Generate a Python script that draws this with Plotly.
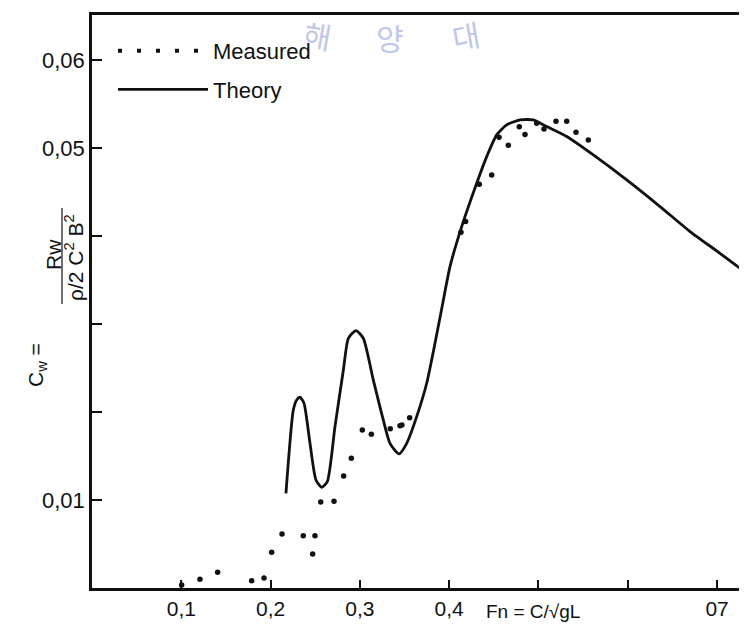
import plotly.graph_objects as go

# ---- data ----
theory_fn = [0.2172, 0.2254, 0.2292, 0.2329, 0.2374, 0.2441, 0.2508, 0.2572, 0.2635,
             0.2721, 0.2815, 0.2871, 0.2956, 0.3038, 0.3150, 0.3262, 0.3337, 0.3438,
             0.3524, 0.3636, 0.3748, 0.3841, 0.3935, 0.4009, 0.4140, 0.4308, 0.4420,
             0.4532, 0.4644, 0.4793, 0.4942, 0.5092, 0.5316, 0.5614, 0.5988, 0.6361,
             0.6697, 0.7032, 0.7331]
theory_cw = [0.01076, 0.0202, 0.02136, 0.02167, 0.0210, 0.01644, 0.01227, 0.01144, 0.01208,
             0.01833, 0.02477, 0.02837, 0.02924, 0.02837, 0.02364, 0.01909, 0.01644, 0.01523,
             0.01644, 0.01947, 0.02326, 0.02780, 0.03273, 0.03651, 0.04106, 0.04599, 0.04901,
             0.05148, 0.05261, 0.05318, 0.05318, 0.05242, 0.05129, 0.0492, 0.04636, 0.04333,
             0.0405, 0.03803, 0.03576]

measured_fn = [0.1004, 0.1209, 0.1407, 0.1788, 0.1926, 0.2012, 0.2128, 0.2366, 0.2497,
               0.2471, 0.2561, 0.2710, 0.2818, 0.2904, 0.3027, 0.3128, 0.3340, 0.3449,
               0.3471, 0.3557, 0.4132, 0.4184, 0.4337, 0.4476, 0.4558, 0.4662, 0.4785,
               0.4849, 0.4980, 0.5062, 0.5196, 0.5316, 0.5420, 0.5558]
measured_cw = [0.00034, 0.00099, 0.00178, 0.00083, 0.00114, 0.00405, 0.00614, 0.00595, 0.00595,
               0.00386, 0.00977, 0.00985, 0.01273, 0.01473, 0.01795, 0.01746, 0.0181, 0.01844,
               0.01852, 0.01935, 0.04042, 0.04163, 0.04587, 0.04693, 0.05121, 0.05030, 0.05239,
               0.05152, 0.05281, 0.05216, 0.05303, 0.05303, 0.05178, 0.05091]

x_tick_vals = [0.1, 0.2, 0.3, 0.4, 0.5, 0.6, 0.7]
x_tick_text = ["0,1", "0,2", "0,3", "0,4", "", "", "07"]
y_tick_vals = [0.01, 0.02, 0.03, 0.04, 0.05, 0.06]
y_tick_text = ["0,01", "", "", "", "0,05", "0,06"]

FONT = "Liberation Sans, Arial, sans-serif"
INK = "#111111"
WM = "#bfc7e8"

# page body has an 8px margin: lay the figure out in screen pixels
OFF = 8
SW, SH = 747, 637               # screen size
SL, ST, SB = 92, 15, 588         # plot left / top / bottom on screen
W, H = SW - OFF, SH - OFF
pw, ph = SW - SL, SB - ST


def px_x(p):
    return (p - SL) / pw


def px_y(p):
    return (SB - p) / ph


fig = go.Figure()
fig.add_trace(go.Scatter(x=measured_fn, y=measured_cw, mode="markers",
                         marker=dict(size=5.5, color=INK), name="Measured",
                         showlegend=False))
# legend key for the measured points (dotted line)
fig.add_trace(go.Scatter(x=[None], y=[None], mode="lines", name="Measured",
                         legendgroup="m",
                         line=dict(color=INK, width=4, dash="4px,15px")))
fig.add_trace(go.Scatter(x=theory_fn, y=theory_cw, mode="lines", name="Theory",
                         legendgroup="t",
                         line=dict(color=INK, width=2.8, shape="spline", smoothing=0.6)))

fig.update_layout(
    width=W, height=H,
    margin=dict(l=SL - OFF, r=0, t=ST - OFF, b=H - (SB - OFF), autoexpand=False),
    paper_bgcolor="white", plot_bgcolor="white",
    font=dict(family=FONT, size=21, color=INK),
    legend=dict(x=px_x(113), y=px_y(30), xanchor="left", yanchor="top",
                bgcolor="rgba(0,0,0,0)", itemwidth=90, tracegroupgap=7,
                traceorder="grouped", font=dict(size=22)),
    xaxis=dict(range=[0, 0.7335], showline=True, linewidth=2.5, linecolor=INK,
               mirror=True, showgrid=False, zeroline=False, ticks="inside",
               ticklen=8, tickwidth=1.5, tickcolor=INK,
               tickvals=x_tick_vals, ticktext=x_tick_text),
    yaxis=dict(range=[0, 0.0651], showline=True, linewidth=2.5, linecolor=INK,
               showgrid=False, zeroline=False, ticks="inside",
               ticklen=10, tickwidth=1.5, tickcolor=INK,
               tickvals=y_tick_vals, ticktext=y_tick_text,
               tickfont=dict(size=22)),
)


def ann(text, sx, sy, angle=0, size=21, color=INK, family=FONT):
    return dict(text=text, x=px_x(sx), y=px_y(sy), xref="paper", yref="paper",
                xanchor="center", yanchor="middle", showarrow=False,
                textangle=angle, font=dict(size=size, color=color, family=family))


annotations = [
    ann("Fn = C/√gL", 533, 611, 0, 19),
    ann("C<sub>w</sub> =", 37, 365, -90),
    ann("Rw", 53, 255, -90),
    ann("ρ/2 C<sup>2</sup> B<sup>2</sup>", 74, 258, -90),
    # faint watermark of the scanned source
    ann("해", 318, 35, 10, 30, WM, "Noto Sans CJK KR"),
    ann("양", 390, 37, 0, 30, WM, "Noto Sans CJK KR"),
    ann("대", 466, 35, -10, 30, WM, "Noto Sans CJK KR"),
]
fig.update_layout(annotations=annotations)

# fraction bar of the y-axis title
fig.add_shape(type="line", xref="paper", yref="paper",
              x0=px_x(62), x1=px_x(62), y0=px_y(208), y1=px_y(304),
              line=dict(color=INK, width=1.2))

fig.write_html("out.html")
